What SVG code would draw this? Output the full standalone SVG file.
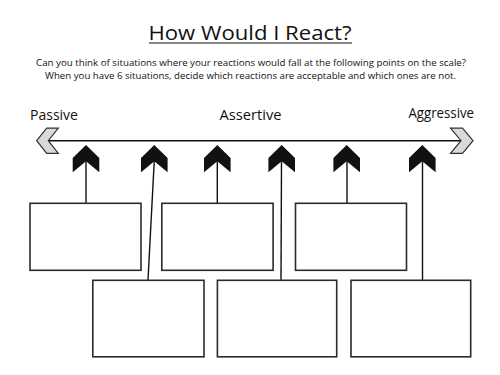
<svg xmlns="http://www.w3.org/2000/svg" width="500" height="375" viewBox="0 0 500 375">
<style>
.t{font-family:"Open Sans","Liberation Sans",Arial,sans-serif;fill:#111}
.box{fill:#fff;stroke:#2b2b2b;stroke-width:1.6}
.ln{stroke:#111;stroke-width:1.4;fill:none}
.chev{fill:#111}
.end{fill:#d9d9d9;stroke:#333;stroke-width:1.2;stroke-linejoin:miter}
</style>
<defs>
<polygon id="up" points="0,-14.8 13.3,-1.8 13.3,12.5 0,1.5 -13.3,12.5 -13.3,-1.8"/>
</defs>
<rect width="500" height="375" fill="#fff"/>
<g id="title">
<text class="t" x="250" y="39.5" text-anchor="middle" font-size="20" textLength="203" lengthAdjust="spacingAndGlyphs">How Would I React?</text>
<line x1="149" y1="43" x2="352" y2="43" stroke="#111" stroke-width="1.2"/>
</g>
<g id="intro">
<text class="t" x="251" y="66" text-anchor="middle" font-size="9.8" textLength="430" lengthAdjust="spacingAndGlyphs">Can you think of situations where your reactions would fall at the following points on the scale?</text>
<text class="t" x="250.5" y="79" text-anchor="middle" font-size="9.8" textLength="411" lengthAdjust="spacingAndGlyphs">When you have 6 situations, decide which reactions are acceptable and which ones are not.</text>
</g>
<g id="scale">
<line x1="48" y1="140.7" x2="462" y2="140.7" stroke="#111" stroke-width="1.5"/>
<polygon class="end" points="36.7,140.7 46.7,128.2 58.3,128.2 48.3,140.7 58.3,153.3 46.7,153.3"/>
<polygon class="end" points="473,140.7 462.5,128.2 450.5,128.2 461,140.7 450.5,153.3 462.5,153.3"/>
<text class="t" x="30" y="120" font-size="14" textLength="48" lengthAdjust="spacingAndGlyphs">Passive</text>
<text class="t" x="219.5" y="120" font-size="14" textLength="62" lengthAdjust="spacingAndGlyphs">Assertive</text>
<text class="t" x="408.5" y="118" font-size="14" textLength="65.5" lengthAdjust="spacingAndGlyphs">Aggressive</text>
</g>
<g id="connectors">
<line class="ln" x1="86" y1="160" x2="86" y2="203"/>
<line class="ln" x1="154.3" y1="160" x2="148" y2="280"/>
<line class="ln" x1="217.3" y1="160" x2="217.3" y2="203"/>
<line class="ln" x1="281.5" y1="160" x2="281" y2="280"/>
<line class="ln" x1="347" y1="160" x2="347" y2="203"/>
<line class="ln" x1="422.5" y1="160" x2="422.5" y2="280"/>
<use href="#up" class="chev" x="86" y="159.8"/>
<use href="#up" class="chev" x="154.3" y="159.8"/>
<use href="#up" class="chev" x="217.3" y="159.8"/>
<use href="#up" class="chev" x="281.7" y="159.8"/>
<use href="#up" class="chev" x="346.7" y="159.8"/>
<use href="#up" class="chev" x="422.3" y="159.8"/>
</g>
<g id="box1"><rect class="box" x="30" y="203.3" width="111" height="67"/></g>
<g id="box2"><rect class="box" x="161.8" y="203.3" width="111.3" height="67"/></g>
<g id="box3"><rect class="box" x="295.5" y="203.3" width="111" height="67"/></g>
<g id="box4"><rect class="box" x="92.8" y="280.3" width="111.2" height="76.5"/></g>
<g id="box5"><rect class="box" x="217.4" y="280.3" width="119.3" height="76.5"/></g>
<g id="box6"><rect class="box" x="351" y="280.3" width="119.7" height="76.5"/></g>
</svg>
